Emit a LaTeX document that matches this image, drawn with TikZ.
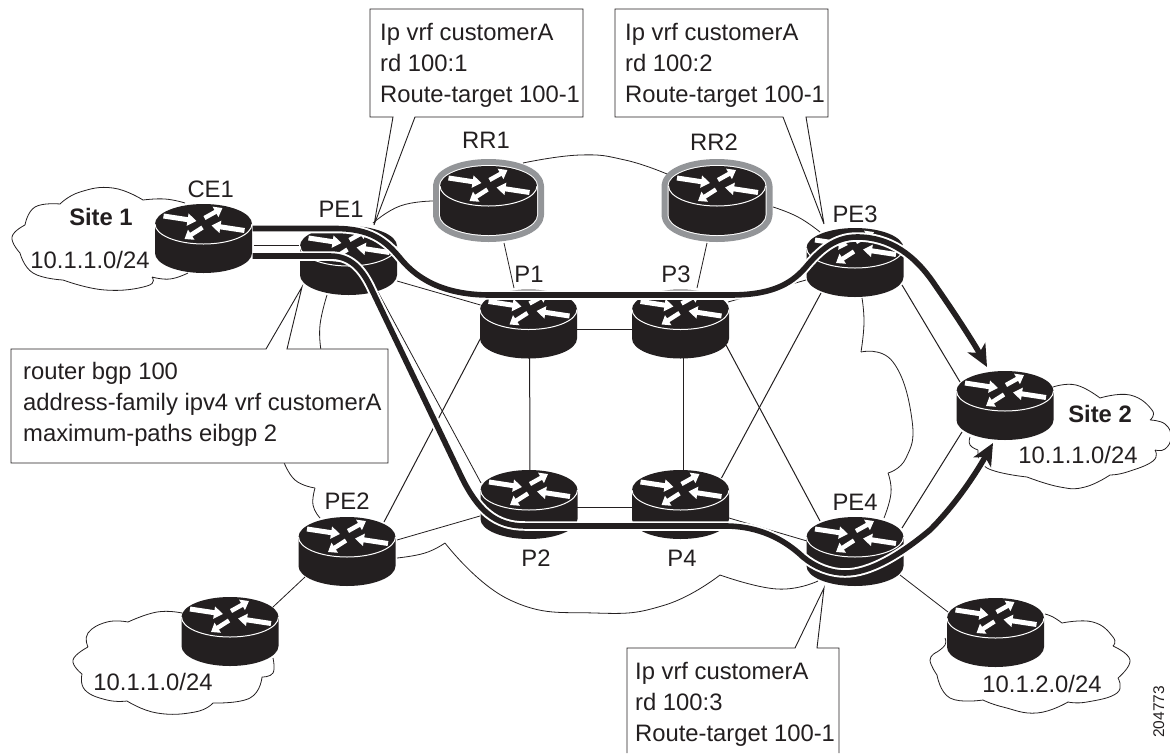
\documentclass[tikz,border=0pt]{standalone}
\usepackage{fontspec}
\setmainfont{Liberation Sans}
\usetikzlibrary{arrows.meta}
\definecolor{ink}{HTML}{231F20}
\definecolor{ring}{HTML}{939598}
\newcommand\routersil{(-48.5,0) -- (-48.5,29) arc[start angle=180,end angle=360,x radius=48.5pt,y radius=20pt] -- (48.5,0) arc[start angle=0,end angle=180,x radius=48.5pt,y radius=20pt] -- cycle}
\newcommand\routerat[1]{%
  \begin{scope}[shift={(#1.center)}]
    \fill[ink] \routersil;
    \draw[white,line width=1pt] (-48.5,0) arc[start angle=180,end angle=360,x radius=48.5pt,y radius=20pt];
    \draw[rarrow] (-40,-8) -- (-7,-3);
    \draw[rarrowsmall] (1,-6) -- (19,-16);
    \draw[rarrow] (41,6.5) -- (8,1.5);
    \draw[rarrowsmall] (-1,3.5) -- (-19,15);
  \end{scope}}
\newcommand\ringrouterat[1]{%
  \begin{scope}[shift={(#1.center)}]
    \draw[ring,line width=14pt,line join=round] \routersil;
    \draw[white,line width=2pt,line join=round] \routersil;
  \end{scope}
  \routerat{#1}}
\newcommand\boldroute[2][]{\draw[halo] #2; \draw[routeline,#1] #2;}
\tikzset{
  x=1pt,y=-1pt,
  rarrow/.style={white,line width=5pt,-{Triangle[length=9pt,width=12pt]}},
  rarrowsmall/.style={white,line width=4.4pt,-{Triangle[length=8pt,width=11.5pt]}},
  rnode/.style={inner sep=0pt,minimum size=0pt},
  link/.style={ink,line width=1pt},
  linkthin/.style={ink,line width=0.8pt},
  cloudline/.style={ink,line width=0.8pt},
  callout/.style={draw=ink,fill=white,line width=0.9pt,line join=miter},
  halo/.style={white,line width=9.5pt},
  routeline/.style={ink,line width=5.6pt},
  headtip/.style={-{Stealth[length=22pt,width=20pt,inset=6pt]}},
  lbl/.style={text=ink,inner sep=0pt,font=\fontsize{23.8}{31}\selectfont,anchor=base},
  lblb/.style={lbl,font=\fontsize{23.8}{31}\selectfont\bfseries},
  txt/.style={lbl,anchor=base west},
}
\begin{document}
\begin{tikzpicture}
\useasboundingbox (0,0) rectangle (1170,753);
\node[rnode] (CE1) at (203.5,224) {};
\node[rnode] (PE1) at (348.5,246) {};
\node[rnode] (PE2) at (347,537) {};
\node[rnode] (PE3) at (855,248) {};
\node[rnode] (PE4) at (855,537) {};
\node[rnode] (P1) at (528.5,309.5) {};
\node[rnode] (P2) at (529,490) {};
\node[rnode] (P3) at (680.5,309.5) {};
\node[rnode] (P4) at (680.5,490) {};
\node[rnode] (RR1) at (488.5,186) {};
\node[rnode] (RR2) at (717,186) {};
\node[rnode] (S2) at (1005,391) {};
\node[rnode] (LL) at (230,617) {};
\node[rnode] (LR) at (995.5,618) {};
% clouds
\draw[cloudline]
  plot[smooth,tension=.8] coordinates {(185,203) (165,199) (143,200)}
  plot[smooth,tension=.8] coordinates {(143,200) (113,188) (80,192) (60,204)}
  plot[smooth,tension=.8] coordinates {(60,204) (35,207) (25,225)}
  plot[smooth,tension=.8] coordinates {(25,225) (12,237) (20,253)}
  plot[smooth,tension=.8] coordinates {(20,253) (33,273) (63,280)}
  plot[smooth,tension=.8] coordinates {(63,280) (105,290) (147,286) (152,277)}
  plot[smooth,tension=.8] coordinates {(152,277) (170,279) (188,273)};
\draw[cloudline]
  plot[smooth,tension=.8] coordinates {(1053,387) (1076,385) (1100,398)}
  plot[smooth,tension=.8] coordinates {(1100,398) (1130,395) (1152,410) (1150,420)}
  plot[smooth,tension=.8] coordinates {(1150,420) (1165,424) (1171,437) (1165,449) (1155,450)}
  plot[smooth,tension=.8] coordinates {(1155,450) (1153,461) (1127,472) (1110,475)}
  plot[smooth,tension=.8] coordinates {(1110,475) (1085,487) (1060,487) (1027,477)}
  plot[smooth,tension=.8] coordinates {(1027,477) (987,468) (978,450)}
  plot[smooth,tension=.8] coordinates {(978,450) (970,445) (970,437)};
\draw[cloudline]
  plot[smooth,tension=.8] coordinates {(1045,614) (1053,617) (1062,623)}
  plot[smooth,tension=.8] coordinates {(1062,623) (1093,622) (1113,637) (1113,646)}
  plot[smooth,tension=.8] coordinates {(1113,646) (1130,660) (1118,678)}
  plot[smooth,tension=.8] coordinates {(1118,678) (1117,693) (1087,702) (1068,702)}
  plot[smooth,tension=.8] coordinates {(1068,702) (1037,713) (1003,707) (983,700)}
  plot[smooth,tension=.8] coordinates {(983,700) (950,698) (937,675)}
  plot[smooth,tension=.8] coordinates {(937,675) (930,660) (937,652)}
  plot[smooth,tension=.8] coordinates {(937,652) (945,645) (945,638)};
\draw[cloudline]
  plot[smooth,tension=.8] coordinates {(182,613) (157,612) (128,622)}
  plot[smooth,tension=.8] coordinates {(128,622) (107,622) (88,633) (88,647)}
  plot[smooth,tension=.8] coordinates {(88,647) (73,660) (82,674)}
  plot[smooth,tension=.8] coordinates {(82,674) (85,690) (107,700) (127,701)}
  plot[smooth,tension=.8] coordinates {(127,701) (157,713) (195,712) (213,703)}
  plot[smooth,tension=.8] coordinates {(213,703) (250,698) (262,677)}
  plot[smooth,tension=.8] coordinates {(262,677) (273,673) (273,658)};
% backbone cloud
\draw[cloudline] plot[smooth,tension=.8] coordinates {(373,223) (400,206) (433,201)};
\draw[cloudline] plot[smooth,tension=.8] coordinates {(523,163) (580,155) (625,160) (667,174)};
\draw[cloudline] plot[smooth,tension=.8] coordinates {(773,207) (798,217) (820,232)};
\draw[cloudline] plot[smooth,tension=.8] coordinates {(862,298) (864,323) (861,352)};
\draw[cloudline] plot[smooth,tension=.8] coordinates {(861,352) (893,362) (912,420) (906,458) (888,473)};
\draw[cloudline] plot[smooth,tension=.8] coordinates {(888,473) (891,493) (884,518)};
\draw[cloudline] plot[smooth,tension=.8] coordinates {(818,581) (777,589) (720,575)};
\draw[cloudline] plot[smooth,tension=.8] coordinates {(720,575) (665,605) (595,613) (510,600) (445,543)};
\draw[cloudline] plot[smooth,tension=.8] coordinates {(445,543) (425,553) (397,558)};
\draw[cloudline] plot[smooth,tension=.8] coordinates {(320,518) (313,505) (315,488)};
\draw[cloudline] plot[smooth,tension=.8] coordinates {(315,488) (295,480) (283,460)};
\draw[cloudline] plot[smooth,tension=.8] coordinates {(327,295) (320,325) (321,350)};
% links
\draw[link] ([shift={(50,21)}]CE1.center) -- ([shift={(-50,-1)}]PE1.center);
\draw[linkthin] ([shift={(48.5,35)}]PE1.center) -- ([shift={(-48,-4.5)}]P1.center);
\draw[linkthin] ([shift={(29.5,46)}]PE1.center) -- ([shift={(-48,-7)}]P2.center);
\draw[link] ([shift={(37,-15)}]PE2.center) -- ([shift={(-47.5,28)}]P1.center);
\draw[linkthin] ([shift={(50,3)}]PE2.center) -- ([shift={(-49,26)}]P2.center);
\draw[linkthin] ([shift={(-42,40)}]PE2.center) -- ([shift={(43,-10)}]LL.center);
\draw[link] ([shift={(45,19.5)}]P1.center) -- ([shift={(-45,19.5)}]P3.center);
\draw[linkthin] ([shift={(45,17)}]P2.center) -- ([shift={(-45,17)}]P4.center);
\draw[link] ([shift={(1,0)}]P1.center) -- ([shift={(1,0)}]P2.center);
\draw[link] ([shift={(2.5,0)}]P3.center) -- ([shift={(2.5,0)}]P4.center);
\draw[link] ([shift={(41,-12)}]P4.center) -- ([shift={(-34,45)}]PE3.center);
\draw[link] ([shift={(45.5,35.5)}]P3.center) -- ([shift={(-35,-16)}]PE4.center);
\draw[linkthin] ([shift={(47.5,-7.5)}]P3.center) -- ([shift={(-49,32)}]PE3.center);
\draw[linkthin] ([shift={(48.5,28)}]P4.center) -- ([shift={(-48,4)}]PE4.center);
\draw[link] ([shift={(47,37)}]PE3.center) -- ([shift={(-45,-9)}]S2.center);
\draw[link] ([shift={(47,-9)}]PE4.center) -- ([shift={(-43,41)}]S2.center);
\draw[linkthin] ([shift={(45,38)}]PE4.center) -- ([shift={(-47.5,-6)}]LR.center);
\draw[linkthin] ([shift={(15.5,57)}]RR1.center) -- ([shift={(-14.5,-21.5)}]P1.center);
\draw[linkthin] ([shift={(-10,57)}]RR2.center) -- ([shift={(16.5,-21.5)}]P3.center);
% routers
\routerat{CE1}\routerat{PE1}\routerat{PE2}\routerat{PE3}\routerat{PE4}
\routerat{P1}\routerat{P2}\routerat{P3}\routerat{P4}
\routerat{S2}\routerat{LL}\routerat{LR}
\ringrouterat{RR1}\ringrouterat{RR2}
% callouts
\path[callout] (370,9) -- (583,9) -- (583,117) -- (415,117) -- (374,225) -- (393,117) -- (370,117) -- cycle;
\path[callout] (615,9) -- (828,9) -- (828,117) -- (806,117) -- (824,224) -- (783,117) -- (615,117) -- cycle;
\path[callout] (11,349) -- (266,349) -- (302,287) -- (287,349) -- (388,349) -- (388,463) -- (11,463) -- cycle;
\path[callout] (627,753) -- (627,648) -- (795,648) -- (824,588) -- (817,648) -- (839,648) -- (839,753);
\node[txt] (a1) at (380,40) {Ip vrf customerA};
\node[txt] (a2) at (380,71) {rd 100:1};
\node[txt] (a3) at (380,102) {Route-target 100-1};
\node[txt] (b1) at (625,40) {Ip vrf customerA};
\node[txt] (b2) at (625,71) {rd 100:2};
\node[txt] (b3) at (625,102) {Route-target 100-1};
\node[txt] (c1) at (23,379) {router bgp 100};
\node[txt] (c2) at (23,410) {address-family ipv4 vrf customerA};
\node[txt] (c3) at (23,441) {maximum-paths eibgp 2};
\node[txt] (d1) at (635,679) {Ip vrf customerA};
\node[txt] (d2) at (635,710) {rd 100:3};
\node[txt] (d3) at (635,741) {Route-target 100-1};
% bold routes
\boldroute[headtip]{([shift={(49,4.5)}]CE1.center) -- (335,228.5) .. controls (370,228.5) and (385,240) .. (400,258) .. controls (420,283) and (450,295) .. (490,295) -- (730,295) .. controls (770,295) and (790,285) .. (805,268) .. controls (820,250) and (835,237) .. (857,237) .. controls (890,237) and (915,255) .. (935,285) .. controls (958,318) and (975,345) .. ([shift={(-18,-24)}]S2.center)}
\boldroute[headtip]{([shift={(49,32)}]CE1.center) -- (330,256) .. controls (350,256) and (362,268) .. (372,290) -- (462,478) .. controls (478,510) and (495,526) .. (525,526) -- (725,526) .. controls (760,526) and (785,540) .. (803,557) .. controls (815,567) and (830,573) .. (845,573) .. controls (870,573) and (900,555) .. (930,530) .. controls (955,505) and (975,475) .. ([shift={(-12,52)}]S2.center)}
% labels
\node[lbl] (lCE1) at (210.7,197) {CE1};
\node[lbl] (lPE1) at (341,217) {PE1};
\node[lbl] (lRR1) at (486,148) {RR1};
\node[lbl] (lRR2) at (714,150) {RR2};
\node[lbl] (lPE3) at (855,222) {PE3};
\node[lbl] (lP1) at (529,282) {P1};
\node[lbl] (lP3) at (676,282) {P3};
\node[lbl] (lP2) at (536,566) {P2};
\node[lbl] (lP4) at (682,566) {P4};
\node[lbl] (lPE4) at (855,510) {PE4};
\node[lbl] (lPE2) at (347,509) {PE2};
\node[lblb] (s1) at (101,225) {Site 1};
\node[lbl] (n1) at (90,268) {10.1.1.0/24};
\node[lblb] (s2) at (1100,422) {Site 2};
\node[lbl] (n2) at (1078,463) {10.1.1.0/24};
\node[lbl] (n3) at (153,690) {10.1.1.0/24};
\node[lbl] (n4) at (1042,692) {10.1.2.0/24};
\node[text=ink,inner sep=0pt,font=\fontsize{15.5}{16}\selectfont,anchor=base west,rotate=90] (id) at (1164,738) {204773};
\end{tikzpicture}
\end{document}
